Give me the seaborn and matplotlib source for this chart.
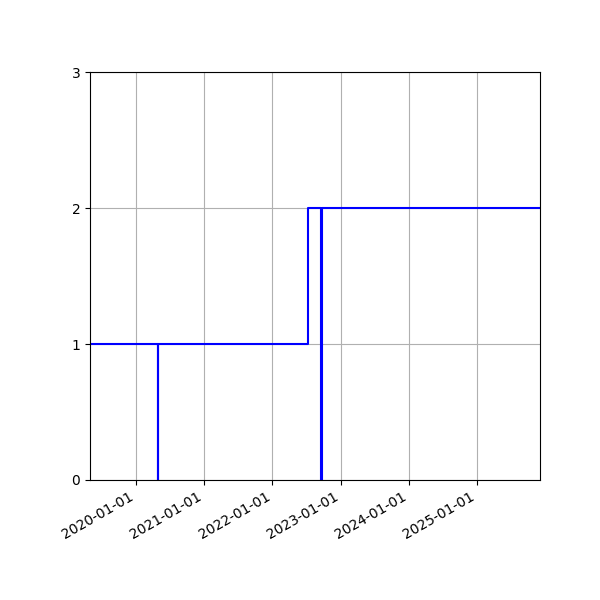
import pandas as pd
import matplotlib
matplotlib.use("Agg")
import matplotlib.pyplot as plt
import matplotlib.dates as mdates
import seaborn as sns

# data
dates = ["2019-04-30", "2020-04-27", "2020-04-28", "2022-07-12",
         "2022-09-20", "2022-09-21", "2025-12-04"]
values = [1, 0, 1, 2, 0, 2, 2]

df = pd.DataFrame({"date": pd.to_datetime(dates), "value": values})

fig, ax = plt.subplots(figsize=(6, 6), dpi=100)
sns.lineplot(data=df, x="date", y="value", color="blue", drawstyle="steps-post",
             linewidth=1.5, ax=ax)

ax.set_xlim(df["date"].min(), df["date"].max())
ax.set_ylim(0, 3)
ax.set_yticks([0, 1, 2, 3])
ax.xaxis.set_major_locator(mdates.YearLocator())
ax.xaxis.set_major_formatter(mdates.DateFormatter("%Y-%m-%d"))
ax.grid(True)
ax.set_xlabel("")
ax.set_ylabel("")
fig.autofmt_xdate()
fig.subplots_adjust(left=0.15, right=0.9, top=0.88, bottom=0.2)

plt.savefig("out.png")
